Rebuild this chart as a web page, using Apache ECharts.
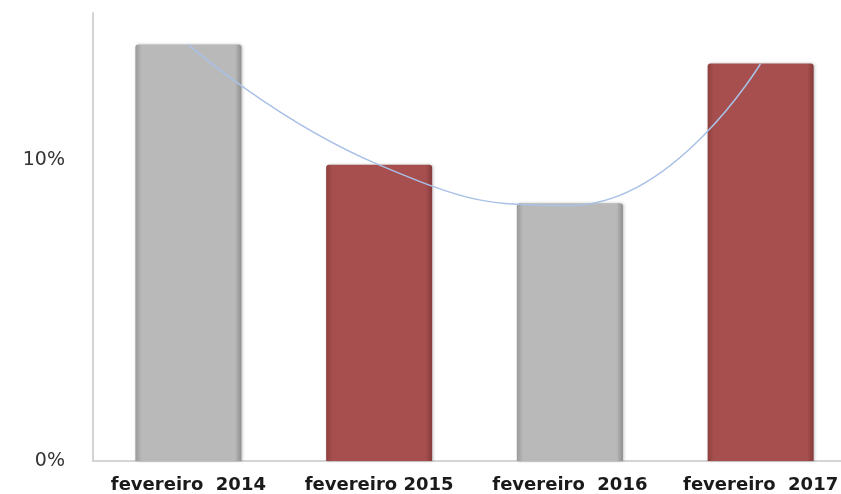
<!DOCTYPE html>
<html>
<head>
<meta charset="utf-8">
<script src="https://cdn.jsdelivr.net/npm/echarts@6/dist/echarts.min.js"></script>
<style>
  html, body { margin: 0; padding: 0; background: #fff; }
  #main { width: 841px; height: 494px; }
</style>
</head>
<body>
<div id="main"></div>
<script>
// dados (percentagem)
let categorias = ['fevereiro  2014', 'fevereiro 2015', 'fevereiro  2016', 'fevereiro  2017'];
let valores = [13.85, 9.85, 8.57, 13.22];
let tendencia = [13.85, 9.85, 8.5, 13.22];

// cores alternadas das barras
let cinza = new echarts.graphic.LinearGradient(0, 0, 1, 0, [
    { offset: 0, color: '#9a9a9a' },
    { offset: 0.06, color: '#b9b9b9' },
    { offset: 0.94, color: '#b9b9b9' },
    { offset: 1, color: '#8e8e8e' }
]);
let vermelho = new echarts.graphic.LinearGradient(0, 0, 1, 0, [
    { offset: 0, color: '#8f3f3f' },
    { offset: 0.06, color: '#a64f4e' },
    { offset: 0.94, color: '#a64f4e' },
    { offset: 1, color: '#863a3a' }
]);

let myChart = echarts.init(document.getElementById('main'));

let option = {
    animation: false,
    grid: {
        left: 93,
        width: 763,
        top: 13,
        bottom: 33,
        outerBoundsMode: 'none'
    },
    xAxis: {
        type: 'category',
        data: categorias,
        axisLine: { lineStyle: { color: '#d4d4d4', width: 2 } },
        axisTick: { show: false },
        axisLabel: {
            interval: 0,
            hideOverlap: false,
            margin: 15,
            color: '#1a1a1a',
            fontSize: 18,
            fontWeight: 'bold',
            fontFamily: 'DejaVu Sans'
        }
    },
    yAxis: {
        type: 'value',
        min: 0,
        max: 14.9,
        interval: 10,
        axisLine: { show: true, lineStyle: { color: '#d4d4d4', width: 2 } },
        axisTick: { show: false },
        splitLine: { show: false },
        axisLabel: {
            showMaxLabel: false,
            margin: 28,
            color: '#333',
            fontSize: 19,
            fontFamily: 'DejaVu Sans',
            formatter: v => v + '%'
        }
    },
    series: [{
        type: 'bar',
        barWidth: 106,
        data: valores.map((v, i) => ({
            value: v,
            itemStyle: { color: i % 2 === 0 ? cinza : vermelho }
        })),
        itemStyle: {
            borderRadius: [3, 3, 0, 0],
            shadowBlur: 3,
            shadowColor: 'rgba(0,0,0,0.25)',
            shadowOffsetX: 1
        }
    }, {
        type: 'line',
        data: tendencia,
        smooth: true,
        symbol: 'none',
        lineStyle: { color: '#a9c1e6', width: 1.5 },
        z: 5
    }]
};

myChart.setOption(option);
</script>
</body>
</html>
